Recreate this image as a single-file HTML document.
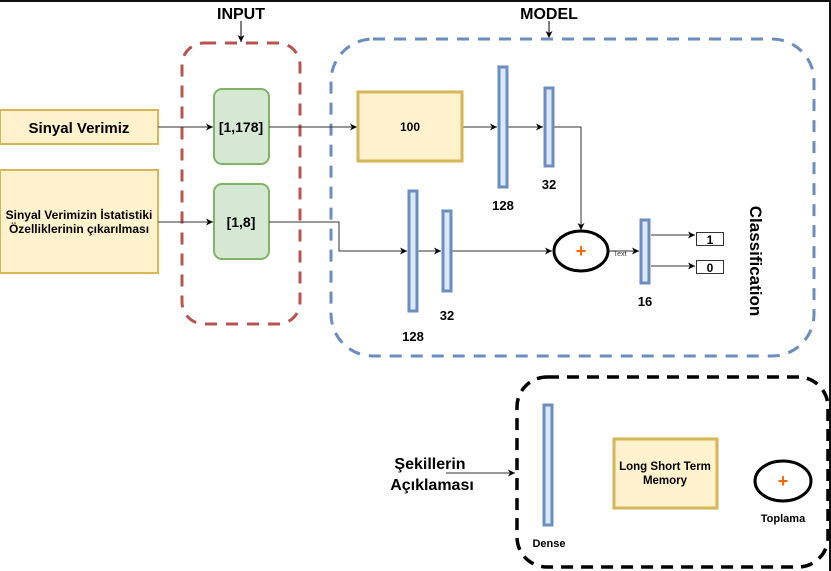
<!DOCTYPE html>
<html><head><meta charset="utf-8"><style>
html,body{margin:0;padding:0;background:#fff;}
svg{display:block;font-family:"Liberation Sans",sans-serif;font-weight:bold;}
</style></head><body>
<svg width="831" height="571" viewBox="0 0 831 571" xmlns="http://www.w3.org/2000/svg">
<defs>
<marker id="a" markerWidth="8" markerHeight="8" refX="7" refY="4" orient="auto" markerUnits="userSpaceOnUse">
<path d="M0,0.5 L7,4 L0,7.5 L2,4 Z" fill="#000"/></marker>
</defs>
<rect x="0" y="0" width="831" height="2" fill="#111"/>
<rect x="829" y="0" width="2" height="571" fill="#111"/>
<text x="241" y="19" font-size="16" text-anchor="middle">INPUT</text>
<line x1="241" y1="21" x2="241" y2="42" stroke="#000" marker-end="url(#a)"/>
<rect x="182" y="43" width="118" height="281" rx="22" fill="none" stroke="#b85450" stroke-width="3" stroke-dasharray="12 9"/>
<text x="549" y="19" font-size="16" text-anchor="middle">MODEL</text>
<line x1="549" y1="21" x2="549" y2="38" stroke="#000" marker-end="url(#a)"/>
<rect x="331" y="39" width="483" height="317" rx="42" fill="none" stroke="#6c8ebf" stroke-width="3" stroke-dasharray="12 9"/>
<rect x="0" y="110" width="158" height="34" fill="#fff2cc" stroke="#d6b656" stroke-width="2"/>
<text x="79" y="133" font-size="15" text-anchor="middle">Sinyal Verimiz</text>
<rect x="0" y="170" width="158" height="103" fill="#fff2cc" stroke="#d6b656" stroke-width="2"/>
<text x="79" y="219" font-size="12" text-anchor="middle">Sinyal Verimizin İstatistiki</text>
<text x="79" y="233" font-size="12" text-anchor="middle">Özelliklerinin çıkarılması</text>
<rect x="214" y="89" width="55" height="75" rx="8" fill="#d5e8d4" stroke="#82b366" stroke-width="2"/>
<text x="241" y="132" font-size="14" text-anchor="middle">[1,178]</text>
<rect x="214" y="184" width="55" height="75" rx="8" fill="#d5e8d4" stroke="#82b366" stroke-width="2"/>
<text x="241" y="227" font-size="14" text-anchor="middle">[1,8]</text>
<g stroke="#333" stroke-width="1" fill="none">
<line x1="158" y1="127" x2="213" y2="127" marker-end="url(#a)"/>
<line x1="269" y1="127" x2="357" y2="127" marker-end="url(#a)"/>
<line x1="158" y1="222" x2="213" y2="222" marker-end="url(#a)"/>
<polyline points="269,222 339,222 339,251 407,251" marker-end="url(#a)"/>
<line x1="462" y1="127" x2="497" y2="127" marker-end="url(#a)"/>
<line x1="508" y1="127" x2="543" y2="127" marker-end="url(#a)"/>
<polyline points="553,127 581,127 581,230" marker-end="url(#a)"/>
<line x1="418" y1="251" x2="441" y2="251" marker-end="url(#a)"/>
<line x1="452" y1="251" x2="552" y2="251" marker-end="url(#a)"/>
<line x1="609" y1="251" x2="639" y2="251" marker-end="url(#a)"/>
<line x1="651" y1="235" x2="695" y2="235" marker-end="url(#a)"/>
<line x1="651" y1="266" x2="695" y2="266" marker-end="url(#a)"/>
<line x1="446" y1="473" x2="515" y2="473" marker-end="url(#a)"/>
</g>
<rect x="358" y="92" width="104" height="69" fill="#fff2cc" stroke="#d6b656" stroke-width="3"/>
<text x="410" y="131" font-size="12" text-anchor="middle">100</text>
<g fill="#dae8fc" stroke="#6c8ebf" stroke-width="3">
<rect x="499" y="67" width="8" height="120"/>
<rect x="545" y="88" width="8" height="78"/>
<rect x="409" y="191" width="8" height="120"/>
<rect x="443" y="211" width="8" height="80"/>
<rect x="641" y="220" width="8" height="63"/>
<rect x="544" y="405" width="8" height="120"/>
</g>
<g font-size="13" text-anchor="middle">
<text x="503" y="210">128</text>
<text x="549" y="189">32</text>
<text x="413" y="341">128</text>
<text x="447" y="320">32</text>
<text x="645" y="306">16</text>
</g>
<ellipse cx="581" cy="251" rx="27" ry="20" fill="#fff" stroke="#000" stroke-width="3"/>
<text x="581" y="257" font-size="18" fill="#ff6600" text-anchor="middle">+</text>
<text x="620" y="256" font-size="7" font-weight="normal" fill="#333" text-anchor="middle">Text</text>
<rect x="696.5" y="232.5" width="27" height="13" fill="#fff" stroke="#333"/>
<text x="710" y="244" font-size="12" text-anchor="middle">1</text>
<rect x="696.5" y="260.5" width="27" height="13" fill="#fff" stroke="#333"/>
<text x="710" y="272" font-size="12" text-anchor="middle">0</text>
<text x="0" y="0" font-size="17" text-anchor="middle" transform="translate(750,261) rotate(90)">Classification</text>
<rect x="517" y="377" width="311" height="190" rx="30" fill="none" stroke="#000" stroke-width="3.5" stroke-dasharray="12 8"/>
<text x="430" y="469" font-size="16" text-anchor="middle">Şekillerin</text>
<text x="432" y="490" font-size="16" text-anchor="middle">Açıklaması</text>
<text x="549" y="547" font-size="11" text-anchor="middle">Dense</text>
<rect x="614" y="439" width="103" height="69" fill="#fff2cc" stroke="#d6b656" stroke-width="3"/>
<text x="665" y="470" font-size="11.5" text-anchor="middle">Long Short Term</text>
<text x="665" y="484" font-size="11.5" text-anchor="middle">Memory</text>
<ellipse cx="783" cy="481" rx="28" ry="20" fill="#fff" stroke="#000" stroke-width="3"/>
<text x="783" y="487" font-size="18" fill="#ff6600" text-anchor="middle">+</text>
<text x="783" y="522" font-size="11" text-anchor="middle">Toplama</text>
</svg>
</body></html>
